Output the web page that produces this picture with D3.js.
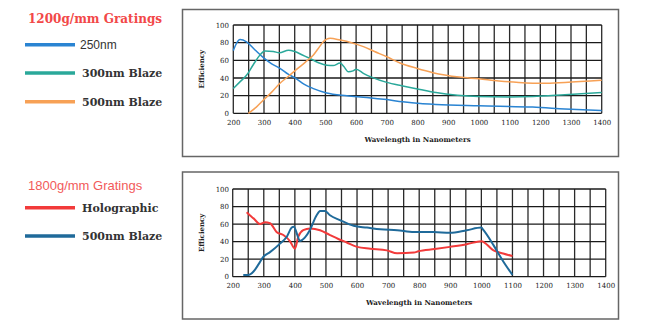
<!DOCTYPE html>
<html><head><meta charset="utf-8">
<script src="https://cdn.jsdelivr.net/npm/d3@7"></script>
<style>body{margin:0;background:#fff}svg{display:block}</style>
</head><body>
<svg id="c" width="650" height="330"></svg>
<script>
// ---- data ----
const xTicks = [200,300,400,500,600,700,800,900,1000,1100,1200,1300,1400];
const yTicks = [0,20,40,60,80,100];

const blue250 = [[200,71],[210,79],[222,83.5],[243,81],[270,72],[298,63],[325,56],[352,51],[380,44],[401,40],[430,33],[461,28],[504,23],[570,20],[635,18],[700,15.5],[752,13],[809,11],[860,10],[1000,8.5],[1175,7],[1280,5],[1400,3]];
const teal300 = [[200,28],[220,35],[243,43],[265,55],[287,66],[303,70.5],[330,70],[350,68.5],[380,71.5],[400,70],[425,66],[450,62],[480,57],[505,54.5],[525,54],[548,57],[560,53],[575,47],[590,48],[600,50],[625,45],[650,41],[700,35],[752,31],[808,27],[860,23.5],[930,20.5],[1000,19],[1100,18.5],[1175,19],[1280,21],[1400,23.5]];
const orange500 = [[249,0],[275,7],[298,15],[325,24],[352,34],[380,42],[407,50],[435,58],[461,66],[480,75],[493,81],[515,85],[548,83],[585,80],[624,75.5],[660,70],[700,64],[743,57],[797,51],[850,46],[936,41],[1000,39],[1065,36.6],[1130,35],[1210,34],[1280,35],[1400,37.5]];

const red1800 = [[245,73.5],[255,70],[267,66.5],[288,60],[304,62],[320,61],[341,51],[363,47.5],[384,40.7],[400,32],[411,45.6],[427,53],[449,55],[481,53],[513,47.5],[540,43],[567,39],[600,34],[643,32],[696,30],[729,26.6],[783,27.5],[797,29],[850,31.5],[899,34],[953,37],[1000,40.5],[1039,30],[1070,26.5],[1100,23.5]];
const blue1800 = [[234,2],[250,2],[267,6],[283,14],[299,22.8],[320,28],[353,38],[374,45.6],[390,56],[397,57],[408,47.5],[416,40.7],[432,44.5],[448,53],[470,70],[481,75],[497,75],[513,70],[545,64.6],[589,58],[632,56],[675,54],[729,53],[783,51],[845,51],[899,50],[953,53],[1000,56],[1007,53],[1039,36],[1071,17],[1100,2]];

const series1 = [
  {name:"250nm", data:blue250, color:"#2a84d2"},
  {name:"300nm Blaze", data:teal300, color:"#2aa89a"},
  {name:"500nm Blaze", data:orange500, color:"#f7a156"}
];
const series2 = [
  {name:"Holographic", data:red1800, color:"#f23a3a"},
  {name:"500nm Blaze", data:blue1800, color:"#1f6a9a"}
];

const svg = d3.select("#c");

function drawChart(cfg){
  const g = svg.append("g");
  g.append("rect").attr("x",cfg.box[0]).attr("y",cfg.box[1]).attr("width",cfg.box[2]).attr("height",cfg.box[3])
    .attr("fill","#fff").attr("stroke","#666").attr("stroke-width",1.5);
  const x = d3.scaleLinear().domain([200,1400]).range(cfg.xr);
  const y = d3.scaleLinear().domain([0,100]).range(cfg.yr);
  // vertical grid every 50nm
  const vg = d3.range(200,1401,50);
  g.append("g").selectAll("line").data(vg).join("line")
    .attr("x1",d=>x(d)).attr("x2",d=>x(d)).attr("y1",y(0)).attr("y2",y(100))
    .attr("stroke","#2a2a2a").attr("stroke-width",1.3);
  g.append("g").selectAll("line").data(yTicks).join("line")
    .attr("x1",x(200)).attr("x2",x(1400)).attr("y1",d=>y(d)).attr("y2",d=>y(d))
    .attr("stroke","#1a1a1a").attr("stroke-width",1.3);
  // axes (labels only)
  const ax = g.append("g").attr("transform",`translate(0,${cfg.xlabY})`)
    .call(d3.axisBottom(x).tickValues(xTicks).tickSize(0).tickPadding(0).tickFormat(d3.format("d")));
  ax.select(".domain").remove();
  ax.selectAll("text").attr("dy",0).attr("font-family","DejaVu Serif").attr("font-size",7).attr("fill","#222");
  const ay = g.append("g").attr("transform",`translate(${cfg.ylabX},0)`)
    .call(d3.axisLeft(y).tickValues(yTicks).tickSize(0).tickPadding(0));
  ay.select(".domain").remove();
  ay.selectAll("text").attr("font-family","DejaVu Serif").attr("font-size",7).attr("fill","#222");
  g.append("text").attr("x",(cfg.xr[0]+cfg.xr[1])/2).attr("y",cfg.titleY).attr("text-anchor","middle")
    .attr("font-family","DejaVu Serif").attr("font-weight","bold").attr("font-size",7).attr("fill","#222")
    .text("Wavelength in Nanometers");
  g.append("text").attr("transform",`translate(${cfg.effX},${(cfg.yr[0]+cfg.yr[1])/2}) rotate(-90)`)
    .attr("text-anchor","middle").attr("font-family","DejaVu Serif").attr("font-weight","bold").attr("font-size",7).attr("fill","#222")
    .text("Efficiency");
  const line = d3.line().x(d=>x(d[0])).y(d=>y(d[1])).curve(d3.curveMonotoneX);
  cfg.series.forEach(s=>{
    g.append("path").attr("d",line(s.data)).attr("fill","none").attr("stroke",s.color)
      .attr("stroke-width",cfg.lw).attr("stroke-linejoin","round");
  });
}

drawChart({box:[182.5,9.5,436,147], xr:[233.3,601.7], yr:[113.3,25], xlabY:125, ylabX:229, titleY:142, effX:204,
  series:series1, lw:1.5});
drawChart({box:[182.5,172,436,147], xr:[232.7,605.7], yr:[276.7,189], xlabY:288, ylabX:229, titleY:305, effX:204,
  series:series2, lw:2});

// legends
function legend(title, tfont, tweight, tcolor, ty, items, ys, fonts){
  const g = svg.append("g");
  g.append("text").attr("x",28).attr("y",ty).attr("font-family",tfont).attr("font-weight",tweight)
    .attr("font-size",tfont.includes("Serif")?12:13).attr("fill",tcolor).text(title);
  items.forEach((s,i)=>{
    g.append("line").attr("x1",25).attr("x2",75).attr("y1",ys[i]).attr("y2",ys[i])
      .attr("stroke",s.color).attr("stroke-width",3.5);
    const f = fonts[i];
    g.append("text").attr("x",f.x).attr("y",ys[i]).attr("dy","0.35em").attr("font-family",f.family)
      .attr("font-weight",f.weight).attr("font-size",f.size).attr("fill","#333").text(s.name);
  });
}
const serifB = {family:"DejaVu Serif", weight:"bold", size:11, x:82};
legend("1200g/mm Gratings","DejaVu Serif","bold","#f24848",23, series1,[44.7,73,101.7],
  [{family:"Liberation Sans",weight:"normal",size:12,x:80}, serifB, serifB]);
legend("1800g/mm Gratings","Liberation Sans","normal","#f25a5a",190, series2,[207.7,236], [serifB, serifB]);
</script>
</body></html>
